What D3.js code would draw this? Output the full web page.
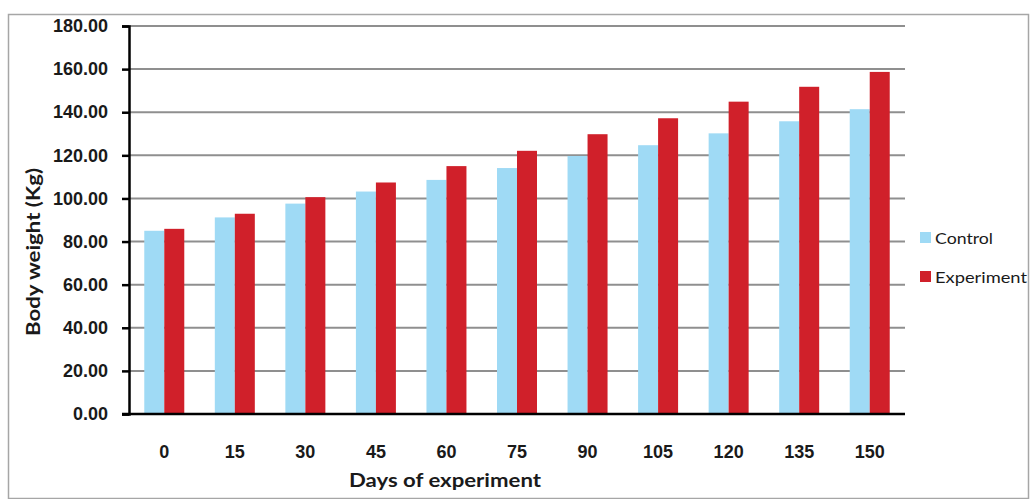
<!DOCTYPE html>
<html>
<head>
<meta charset="utf-8">
<script src="https://cdn.jsdelivr.net/npm/d3@7"></script>
<style>
  html, body { margin: 0; padding: 0; background: #fff; }
  svg { display: block; }
</style>
</head>
<body>
<svg id="chart" width="1030" height="499"></svg>
<script>
const categories = ["0", "15", "30", "45", "60", "75", "90", "105", "120", "135", "150"];
const controlValues = [85.0, 91.2, 97.6, 103.2, 108.6, 114.1, 119.7, 124.7, 130.2, 135.8, 141.4];
const experimentValues = [85.9, 92.9, 100.6, 107.4, 115.0, 122.1, 129.8, 137.2, 144.9, 151.8, 158.7];
const seriesNames = ["Control", "Experiment"];
const yTicks = [0, 20, 40, 60, 80, 100, 120, 140, 160, 180];
const colors = { "Control": "#9fdaf5", "Experiment": "#d0202a" };

(function () {
const svg = d3.select("#chart");
const mLeft = 129, mRight = 905, mTop = 26, mBottom = 414;

// outer frame
svg.append("rect")
  .attr("x", 8.5).attr("y", 14.5).attr("width", 1020).attr("height", 484)
  .attr("fill", "none").attr("stroke", "#a6a6a6").attr("stroke-width", 1.5);

const y = d3.scaleLinear().domain([0, 180]).range([mBottom, mTop]);
const x0 = d3.scaleBand().domain(categories).range([mLeft, mRight]).padding(0);
const x1 = d3.scaleBand().domain(seriesNames)
  .range([x0.bandwidth() / 2 - 20, x0.bandwidth() / 2 + 20]).padding(0);

// gridlines
svg.append("g").selectAll("line").data(yTicks.filter(d => d > 0)).join("line")
  .attr("x1", mLeft).attr("x2", mRight)
  .attr("y1", d => y(d)).attr("y2", d => y(d))
  .attr("stroke", "#8f8f8f").attr("stroke-width", 2);

// bars
const data = categories.map((c, i) => ({ cat: c, vals: [
  { s: "Control", v: controlValues[i] },
  { s: "Experiment", v: experimentValues[i] }
]}));
svg.append("g").selectAll("g").data(data).join("g")
  .attr("transform", d => `translate(${x0(d.cat)},0)`)
  .selectAll("rect").data(d => d.vals).join("rect")
  .attr("x", d => x1(d.s)).attr("width", x1.bandwidth())
  .attr("y", d => y(d.v)).attr("height", d => y(0) - y(d.v))
  .attr("fill", d => colors[d.s]);

// y axis
const yAxis = svg.append("g").attr("transform", `translate(${mLeft},0)`)
  .call(d3.axisLeft(y).tickValues(yTicks).tickFormat(d3.format(".2f")).tickSizeOuter(0).tickSize(7).tickPadding(14));
yAxis.select(".domain").attr("stroke", "#000").attr("stroke-width", 2.5);
yAxis.selectAll(".tick line").attr("stroke", "#000").attr("stroke-width", 2.5);
yAxis.selectAll(".tick text")
  .attr("font-family", "'Liberation Sans', Arial, sans-serif")
  .attr("font-weight", "bold").attr("font-size", 18).attr("fill", "#1a1a1a");

// x axis
const xAxis = svg.append("g").attr("transform", `translate(0,${mBottom})`)
  .call(d3.axisBottom(x0).tickSize(0).tickPadding(31));
xAxis.select(".domain").attr("d", `M${mLeft - 7},0H${mRight}`).attr("stroke", "#000").attr("stroke-width", 2.5);
xAxis.selectAll(".tick text")
  .attr("font-family", "'Liberation Sans', Arial, sans-serif")
  .attr("font-weight", "bold").attr("font-size", 18).attr("fill", "#1a1a1a");

// axis titles
svg.append("text").attr("x", 445).attr("y", 487).attr("text-anchor", "middle")
  .attr("font-family", "Lato, 'Open Sans', sans-serif").attr("font-weight", "bold")
  .attr("font-size", 19).attr("textLength", 192).attr("lengthAdjust", "spacingAndGlyphs")
  .attr("fill", "#1a1a1a").text("Days of experiment");

svg.append("text").attr("transform", "translate(40,252) rotate(-90)")
  .attr("text-anchor", "middle")
  .attr("font-family", "Lato, 'Open Sans', sans-serif").attr("font-weight", "bold")
  .attr("font-size", 18).attr("textLength", 168).attr("lengthAdjust", "spacingAndGlyphs")
  .attr("fill", "#1a1a1a").text("Body weight (Kg)");

// legend
const legend = svg.append("g").selectAll("g").data(seriesNames).join("g")
  .attr("transform", (d, i) => `translate(920,${232 + i * 39})`);
legend.append("rect").attr("width", 11).attr("height", 11).attr("fill", d => colors[d]);
legend.append("text").attr("x", 15).attr("y", 12)
  .attr("font-family", "Lato, 'Open Sans', sans-serif").attr("font-size", 16)
  .attr("textLength", (d, i) => [58, 92][i]).attr("lengthAdjust", "spacingAndGlyphs")
  .attr("fill", "#1a1a1a").text(d => d);
})();
</script>
</body>
</html>
